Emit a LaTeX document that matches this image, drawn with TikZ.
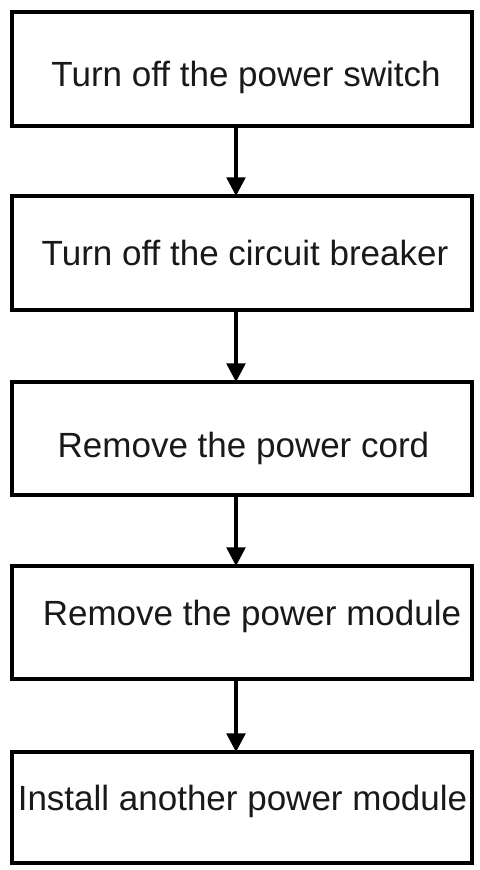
\documentclass[tikz,border=0pt]{standalone}
\usepackage{fontspec}
\setmainfont{Liberation Sans}
\usepackage{tikz}
\usetikzlibrary{arrows.meta}
\tikzset{every picture/.style={line width=0.75pt}}
\tikzset{
  stepbox/.style={draw, line width=2.4pt, minimum width=345pt, inner sep=0pt, outer sep=0pt},
  steptext/.style={anchor=base, inner sep=0.75pt, text=black!90, font=\fontsize{26.25pt}{30pt}\selectfont},
  flow/.style={line width=2.6pt, -{Triangle[length=14pt, width=14pt]}}
}

\begin{document}
\begin{tikzpicture}[x=0.75pt,y=0.75pt,yscale=-1,xscale=1]
\useasboundingbox (0,0) rectangle (479,870);

%Shape: Rectangle
\node [stepbox, minimum height=85.5pt] (b1) at (242,69) {};
%Shape: Rectangle
\node [stepbox, minimum height=85.5pt] (b2) at (242,253) {};
%Shape: Rectangle
\node [stepbox, minimum height=84.75pt] (b3) at (242,438.5) {};
%Shape: Rectangle
\node [stepbox, minimum height=84.75pt] (b4) at (242,622.5) {};
%Shape: Rectangle
\node [stepbox, minimum height=83.25pt] (b5) at (242,807.5) {};

%Arrows
\coordinate (ax) at (236,0);
\draw [flow] (b1.south -| ax) -- (b2.north -| ax);
\draw [flow] (b2.south -| ax) -- (b3.north -| ax);
\draw [flow] (b3.south -| ax) -- (b4.north -| ax);
\draw [flow] (b4.south -| ax) -- (b5.north -| ax);

% Text Node
\node [steptext] (t1) at (246,87) {Turn off the power switch};
% Text Node
\node [steptext] (t2) at (245,265) {Turn off the circuit breaker};
% Text Node
\node [steptext] (t3) at (243.5,457) {Remove the power cord};
% Text Node
\node [steptext] (t4) at (252,625) {Remove the power module};
% Text Node
\node [steptext] (t5) at (242.5,810) {Install another power module};

\end{tikzpicture}
\end{document}
